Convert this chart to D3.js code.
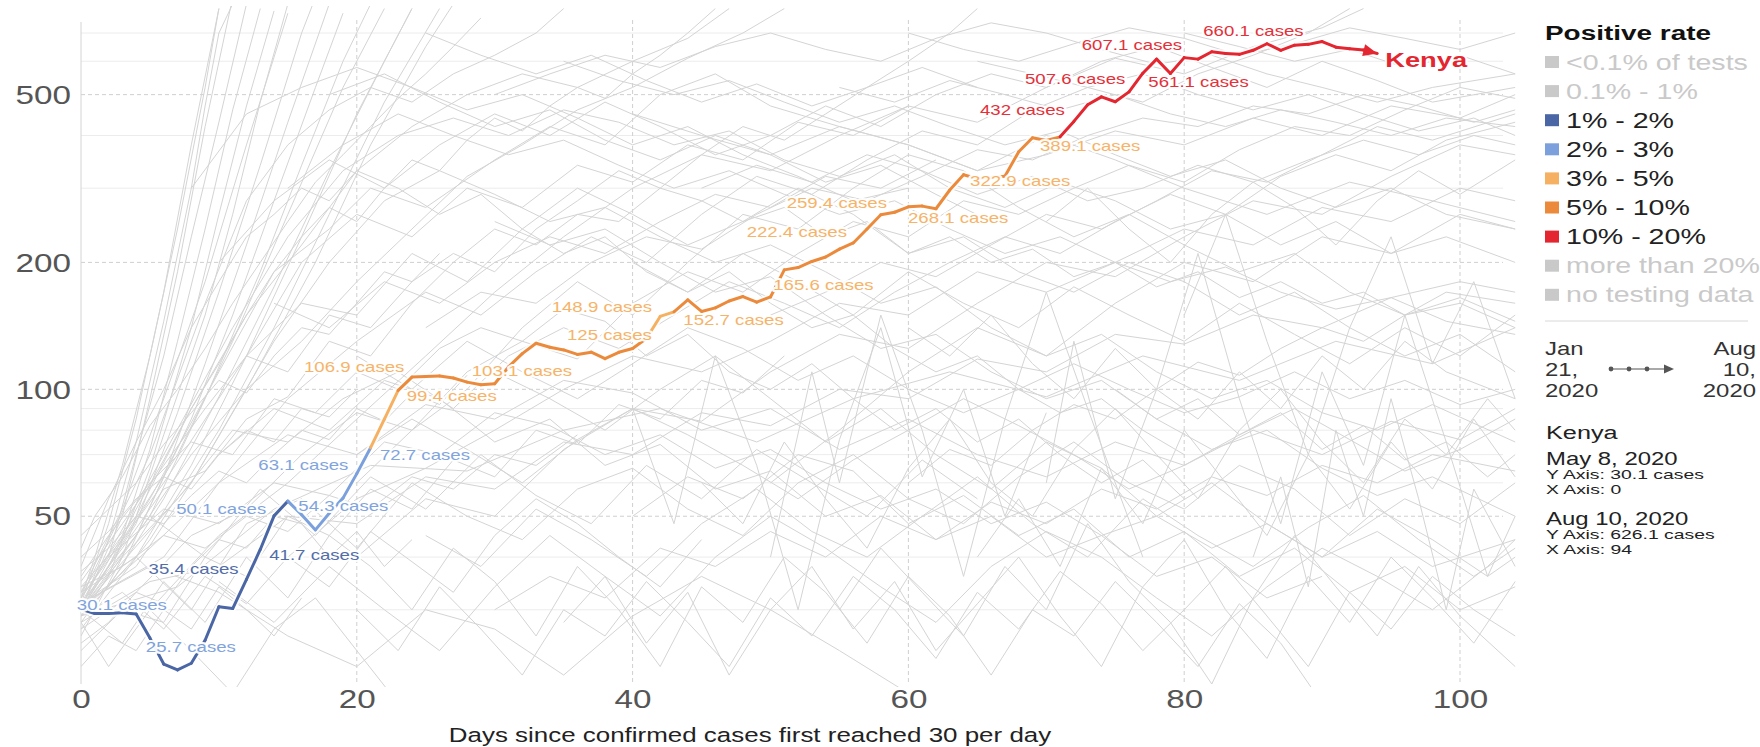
<!DOCTYPE html>
<html><head><meta charset="utf-8">
<script src="https://cdn.jsdelivr.net/npm/d3@7"></script>
<style>
body{margin:0;background:#fff}
svg{display:block}
text{font-family:"Liberation Sans",Arial,Helvetica,sans-serif}
</style></head>
<body><svg id="chart" width="1760" height="747"></svg>
<script>
// ---------------- DATA ----------------
const xTicks = [0, 20, 40, 60, 80, 100];
const yTicks = [50, 100, 200, 500];
const yMinor = [30, 40, 60, 70, 80, 90, 300, 400, 600, 700];

// Kenya: daily confirmed cases (7-day avg), day 0 = May 8 2020 ... day 94 = Aug 10 2020
const kenyaCases = [
  30.1, 29.4, 29.4, 29.5, 29.3, 25.7, 22.3, 21.6, 22.4, 25.4,
  30.5, 30.2, 35.4, 41.7, 50.1, 54.3, 50.4, 46.4, 50.8, 55.2,
  63.1, 72.7, 85.0, 99.4, 106.9, 107.3, 107.5, 106.4, 104.0, 102.5,
  103.1, 113.0, 121.5, 128.6, 125.8, 124.0, 121.0, 122.5, 118.2, 122.4,
  125.0, 132.0, 148.9, 152.7, 163.0, 153.0, 156.0, 162.0, 166.0, 161.0,
  165.6, 192.0, 194.5, 201.0, 206.0, 215.0, 222.4, 240.0, 259.4, 263.0,
  271.0, 272.0, 268.1, 297.0, 322.9, 316.0, 318.0, 320.0, 366.0, 395.0,
  389.1, 397.0, 432.0, 473.0, 494.0, 481.0, 507.6, 562.0, 607.1, 561.1,
  612.0, 607.0, 632.0, 626.0, 623.0, 637.0, 660.1, 637.0, 655.0, 658.0,
  668.0, 648.0, 642.0, 638.0, 626.1
];
// positive-rate class of each day (index into rateLabels)
const kenyaRate = [
  2,2,2,2,2,2,2,2,2,2, 2,2,2,2,2,2,3,3,3,3,
  3,3,4,4,5,5,5,5,5,5, 5,5,5,5,5,5,5,5,5,5,
  5,5,4,4,5,5,5,5,5,5, 5,5,5,5,5,5,5,5,5,5,
  5,5,5,5,5,5,5,5,5,5, 5,5,6,6,6,6,6,6,6,6,
  6,6,6,6,6,6,6,6,6,6, 6,6,6,6,6
];
const rateLabels = ["<0.1% of tests", "0.1% - 1%", "1% - 2%", "2% - 3%", "3% - 5%",
                    "5% - 10%", "10% - 20%", "more than 20%", "no testing data"];
const rateColors = ["#c9c9c9", "#c9c9c9", "#4a66a5", "#7ba0dc", "#f6b062",
                    "#ec8a3c", "#e3262f", "#c9c9c9", "#c9c9c9"];
const rateActive = [false, false, true, true, true, true, true, false, false];

// annotation labels (text, anchor day, anchor value, rate class)
const annText = ["30.1 cases","25.7 cases","35.4 cases","50.1 cases","41.7 cases","63.1 cases",
  "54.3 cases","72.7 cases","106.9 cases","99.4 cases","103.1 cases","125 cases","148.9 cases",
  "152.7 cases","165.6 cases","222.4 cases","259.4 cases","268.1 cases","322.9 cases",
  "389.1 cases","432 cases","507.6 cases","561.1 cases","607.1 cases","660.1 cases"];
const annDay = [-0.3, 4.7, 4.9, 6.9, 13.65, 12.86, 15.76, 21.68, 16.17, 23.62, 28.33, 35.24, 34.13,
  43.68, 50.2, 48.27, 51.17, 59.97, 64.47, 69.54, 65.19, 68.45, 77.4, 72.57, 81.38];
const annAt = [30.8, 24.5, 37.4, 51.9, 40.5, 66.2, 52.7, 69.9, 113.0, 96.1, 110.2, 134.6, 157.1,
  146.1, 176.8, 236.6, 276.3, 254.6, 311.0, 376.6, 459.9, 543.9, 536.8, 656.0, 705.5];
const annRate = [3,3,2,3,2,3,3,3,4,4,4,4,4,4,4,4,4,4,4,4,6,6,6,6,6];

const kenyaStart = ["May 8, 2020", "Y Axis: 30.1 cases", "X Axis: 0"];
const kenyaEnd = ["Aug 10, 2020", "Y Axis: 626.1 cases", "X Axis: 94"];

// other countries (day, value pairs)
const greyLines = [
  [0,31, 2,48, 4,85, 6,170, 8,380, 10,800],
  [0,30, 3,50, 5,95, 7,190, 9,420, 11,850],
  [0,32, 2,40, 4,70, 6,120, 8,230, 10,430, 12,820],
  [0,30, 3,45, 5,72, 7,130, 9,240, 11,460, 13,800],
  [0,29, 2,36, 5,65, 8,140, 10,260, 12,470, 14,790],
  [0,33, 3,52, 6,95, 9,180, 12,380, 15,780],
  [0,30, 4,48, 7,88, 10,170, 13,340, 16,700, 17,850],
  [0,28, 3,38, 6,62, 9,115, 12,220, 15,430, 18,820],
  [0,31, 4,45, 8,85, 11,150, 14,280, 17,520, 19,780],
  [0,30, 5,50, 9,95, 13,190, 16,340, 19,600, 21,820],
  [0,34, 3,44, 7,70, 11,130, 15,260, 19,520, 22,800],
  [0,29, 4,40, 8,66, 12,120, 16,230, 20,450, 24,800],
  [0,30, 2,34, 6,55, 10,96, 14,175, 18,330, 22,600, 24,800],
  [0,31, 4,38, 8,60, 12,100, 17,200, 21,380, 25,650, 27,820],
  [0,27, 5,44, 10,80, 14,140, 18,260, 22,480, 26,800],
  [0,32, 1,40, 3,66, 5,120, 7,240, 9,520, 10,800],
  [0,30, 2,44, 4,75, 6,145, 8,300, 9,470, 10,700, 11,820],
  [0,26, 3,40, 6,78, 9,150, 11,260, 13,480, 15,820],
  [0,30, 5,55, 10,110, 14,190, 18,240, 21,300, 25,270, 30,350, 34,420, 38,380, 42,500, 46,560, 50,470, 55,420, 60,380, 65,330, 70,400, 75,350, 80,300, 86,260, 92,310, 98,280, 104,250],
  [0,32, 6,60, 12,120, 16,160, 20,150, 24,210, 28,180, 32,240, 36,300, 40,260, 44,220, 48,250, 52,300, 56,260, 60,210, 64,230, 68,190, 72,170, 76,200, 80,180, 84,150, 88,170, 92,140, 96,120, 100,135, 104,110],
  [0,29, 4,45, 8,70, 12,100, 16,130, 20,180, 24,240, 28,320, 32,380, 36,460, 40,520, 44,610, 48,700, 51,800],
  [0,31, 6,40, 10,60, 15,95, 20,130, 25,170, 29,150, 33,190, 37,230, 41,200, 45,260, 49,320, 53,290, 57,350, 61,410, 65,380, 69,460, 73,520, 77,480, 81,560, 85,620, 89,700, 92,800],
  [0,30, 3,40, 7,55, 11,80, 15,75, 19,95, 23,110, 27,90, 31,120, 35,140, 39,125, 43,150, 47,180, 51,160, 55,140, 59,170, 63,200, 67,230, 71,210, 75,250, 79,290, 83,260, 87,320, 91,360, 95,330, 99,390, 104,430],
  [0,33, 4,50, 8,90, 12,150, 16,220, 20,330, 24,420, 28,500, 32,560, 36,520, 40,600, 44,680, 47,800],
  [5,30, 10,45, 15,60, 20,85, 25,120, 30,170, 35,230, 40,300, 45,360, 50,330, 55,400, 60,470, 65,430, 70,520, 75,610, 80,560, 85,650, 90,720, 93,800],
  [0,28, 5,35, 10,38, 15,50, 20,48, 25,62, 30,58, 35,75, 40,70, 45,88, 50,82, 55,100, 60,95, 65,118, 70,110, 75,135, 80,128, 85,150, 90,140, 95,165, 100,180, 104,170],
  [0,30, 8,60, 14,130, 18,200, 22,280, 26,330, 30,290, 34,250, 38,270, 42,230, 46,200, 50,220, 54,190, 58,160, 62,175, 66,140, 70,120, 74,135, 78,110, 82,95, 86,105, 90,88, 94,80, 98,92, 104,75],
  [0,31, 6,70, 11,140, 15,230, 19,330, 23,400, 27,440, 31,400, 35,460, 39,430, 43,380, 47,410, 51,350, 55,320, 59,360, 63,300, 67,270, 71,310, 75,280, 79,240, 83,260, 87,220, 91,250, 95,210, 99,230, 104,200],
  [10,200, 14,280, 18,350, 22,300, 26,380, 30,450, 34,400, 38,480, 42,420, 46,360, 50,400, 54,470, 58,420, 62,500, 66,560, 70,520, 74,600, 78,650, 82,580, 86,520, 90,600, 94,540, 98,480, 104,520],
  [0,30, 5,42, 10,60, 15,78, 20,70, 25,92, 30,85, 35,105, 40,98, 45,80, 50,90, 55,72, 60,85, 65,70, 70,62, 75,75, 80,66, 85,80, 90,70, 95,84, 100,76, 104,90],
  [20,60, 24,80, 28,100, 32,140, 36,180, 40,150, 44,200, 48,260, 52,240, 56,300, 60,360, 64,330, 68,270, 72,230, 76,260, 80,220, 84,190, 88,210, 92,170, 96,150, 100,160, 104,140],
  [30,500, 34,560, 38,620, 42,580, 46,650, 50,700, 54,640, 58,600, 62,680, 66,740, 70,700, 74,640, 78,590, 82,620, 86,560, 90,520, 94,480, 98,520, 104,560],
  [0,32, 5,70, 9,160, 12,280, 15,380, 18,460, 21,520, 24,480, 27,560, 30,620, 33,700, 35,800],
  [15,40, 20,55, 25,65, 30,80, 35,100, 40,120, 45,110, 50,130, 55,160, 60,150, 65,190, 70,170, 75,200, 80,240, 85,220, 90,270, 95,250, 100,300, 104,280],
  [40,450, 45,400, 50,360, 55,420, 60,380, 65,330, 70,360, 75,410, 80,380, 85,440, 90,400, 95,470, 100,440, 104,500],
  [50,60, 55,80, 60,110, 65,140, 70,120, 75,160, 80,200, 85,180, 90,230, 95,210, 100,260, 104,240],
  [0,29, 7,34, 14,52, 21,66, 28,64, 35,80, 42,90, 49,75, 56,95, 63,110, 70,96, 77,120, 84,105, 91,130, 98,115, 104,140],
  [60,700, 64,640, 68,600, 72,660, 76,720, 80,680, 84,620, 88,660, 92,720, 96,680, 100,640, 104,700],
  [0,30, 3,25, 6,35, 9,28, 12,40, 15,32, 18,45, 21,38, 24,30, 27,42, 30,35, 33,26, 36,38, 39,30, 42,22, 45,34, 48,28, 51,40, 54,33, 57,25, 60,36, 63,29, 66,21, 69,30, 72,26, 75,35, 78,28, 81,22, 84,31, 87,25, 90,18],
  [0,33, 4,40, 8,30, 12,48, 16,55, 20,42, 24,60, 28,50, 32,44, 36,58, 40,65, 44,52, 48,45, 52,60, 56,70, 60,55, 64,48, 68,62, 72,75, 76,60, 80,52, 84,66, 88,58, 92,45, 96,55, 100,48, 104,60],
  [0,28, 2,22, 5,30, 8,24, 11,19, 14,27, 17,32, 20,24, 23,18],
  [10,35, 14,28, 18,38, 22,30, 26,24, 30,34, 34,45, 38,36, 42,29, 46,40, 50,50, 54,42, 58,34, 62,28, 66,38, 70,46, 74,40, 78,32, 82,26, 86,34, 90,42, 94,36, 98,30, 102,38, 104,44],
  [0,31, 5,38, 10,33, 15,26, 20,22, 25,30, 30,27, 35,21, 40,29, 45,36, 50,30, 55,24, 60,19],
  [20,70, 24,85, 28,72, 32,60, 36,76, 40,90, 44,78, 48,66, 52,55, 56,68, 60,80, 64,95, 68,82, 72,70, 76,58, 80,66, 84,78, 88,90, 92,76, 96,64, 100,72, 104,85],
  [25,45, 29,38, 33,52, 37,44, 41,36, 45,48, 49,58, 53,46, 57,40, 61,50, 65,62, 69,48, 73,40, 77,55, 81,45, 85,38, 89,47, 93,56, 97,44, 101,36, 104,42],
  [35,28, 38,36, 41,25, 44,33, 47,21, 50,30, 53,38, 56,27, 59,35, 62,24, 65,31, 68,40, 71,29, 74,22, 77,34, 80,44, 83,30, 86,23, 89,36, 92,28, 95,40, 98,32, 101,25, 104,35],
  [30,110, 34,95, 38,80, 42,100, 46,120, 50,95, 54,75, 58,90, 62,70, 66,58, 70,75, 74,65, 78,50, 82,60, 86,48, 90,40, 94,52, 98,44, 102,36, 104,40],
  [45,60, 48,48, 51,75, 54,55, 57,42, 60,65, 63,85, 66,60, 69,50, 72,72, 75,90, 78,70, 81,55, 84,80, 87,100, 90,75, 93,60, 96,85, 99,70, 102,95, 104,80],
  [0,29, 3,33, 6,27, 9,36, 12,31, 15,40, 18,34, 21,46, 24,39, 27,33, 30,45, 33,55, 36,48, 39,40, 42,34, 45,44],
  [55,30, 58,42, 61,33, 64,26, 67,38, 70,30, 73,48, 76,35, 79,28, 82,20, 85,32, 88,45, 91,34, 94,26, 97,38, 100,29, 104,22],
  [60,140, 63,120, 66,150, 69,115, 72,95, 75,125, 78,100, 81,85, 84,110, 87,90, 90,120, 93,100, 96,130, 99,110, 104,95],
  [65,40, 68,55, 71,38, 74,65, 77,48, 80,80, 83,60, 86,45, 89,70, 92,52, 95,75, 98,58, 101,85, 104,62],
  [5,50, 9,40, 13,58, 17,45, 21,62, 25,52, 29,70, 33,56, 37,48, 41,66, 45,55, 49,72, 53,60, 57,50, 61,68, 65,55],
  [40,200, 44,170, 48,210, 52,180, 56,150, 60,190, 64,160, 68,140, 72,175, 76,150, 80,130, 84,160, 88,135, 92,115, 96,140, 100,120, 104,150],
  [70,250, 73,300, 76,240, 79,200, 82,260, 85,310, 88,270, 91,220, 94,280, 97,330, 100,290, 104,350],
  [20,30, 23,24, 26,34, 29,27, 32,21, 35,30, 38,26, 41,35, 44,28, 47,22, 50,32, 53,26, 56,36, 59,30, 62,23, 65,33, 68,27, 71,37, 74,31, 77,24, 80,30, 83,38, 86,29, 89,22, 92,33, 95,27, 98,36, 101,30, 104,26],
  [50,40, 53,110, 55,60, 58,150, 61,80, 64,36, 67,85, 70,170, 73,90, 77,40],
  [70,60, 72,130, 75,55, 78,100, 81,210, 84,95, 87,48, 90,110, 93,66, 96,150, 99,75, 102,36, 104,50],
  [40,90, 43,48, 46,120, 49,66, 52,30, 55,76, 58,140, 61,62, 64,100, 67,50, 70,88],
  [80,150, 83,260, 86,130, 89,70, 92,140, 95,230, 98,115, 101,180, 104,95],
  [85,40, 87,62, 89,34, 91,80, 93,50, 95,95, 97,55, 99,30, 101,58, 104,38],
  [12,120, 16,200, 20,260, 24,230, 28,300, 32,270, 36,340, 40,310, 44,380, 48,350, 52,430, 56,400, 60,470],
  [18,500, 22,560, 26,480, 30,420, 34,460, 38,390, 42,350, 46,400, 50,360, 54,310, 58,340, 62,290, 66,250],
  [8,300, 12,450, 16,520, 20,580, 24,520, 28,460, 32,500, 36,440, 40,380, 44,420, 48,360, 52,320, 56,280, 60,300],
  [25,700, 29,620, 33,560, 37,620, 41,540, 45,480, 49,530, 53,470, 57,520, 61,580, 65,520],
  [14,160, 18,140, 22,180, 26,160, 30,200, 34,230, 38,210, 42,250, 46,290, 50,270, 54,320, 58,300, 62,350],
  [0,35, 3,48, 6,66, 9,90, 12,120, 15,110, 18,150, 21,140, 24,180, 27,210, 30,190, 33,240, 36,280, 39,330, 42,300, 45,360, 48,420, 51,390, 54,450, 57,520, 60,600, 63,700, 65,800],
  [0,27, 4,33, 8,45, 12,52, 16,70, 20,88, 24,80, 28,110, 32,130, 36,118, 40,160, 44,190, 48,170, 52,210, 56,250, 60,230, 64,280, 68,260, 72,300, 76,340, 80,310, 84,370, 88,420, 92,400, 96,460, 100,520, 104,490],
  [0,38, 2,55, 4,75, 6,100, 8,140, 10,180, 12,230, 14,260, 16,300, 18,280, 20,330, 23,300, 26,260, 29,290, 32,240, 35,210, 38,230, 41,190, 44,170, 47,190, 50,160, 53,140, 56,150, 59,125, 62,110, 65,120, 68,100, 71,88, 74,95, 77,80, 80,70],
  [0,24, 3,30, 6,28, 9,40, 12,36, 15,50, 18,45, 21,58, 24,52, 27,68, 30,62, 33,80, 36,74, 39,92, 42,85, 45,105, 48,98, 51,120],
  [0,36, 2,45, 5,60, 8,75, 11,70, 14,95, 17,88, 20,110, 23,100, 26,125, 29,140, 32,130, 35,155, 38,145, 41,120, 44,135, 47,110, 50,100, 53,115, 56,95, 59,80, 62,90, 65,75, 68,85, 71,70, 74,60, 77,68, 80,55],
  [2,40, 6,52, 10,48, 14,60, 18,56, 22,75, 26,70, 30,88, 34,82, 38,70, 42,78, 46,65, 50,72, 54,60, 58,52, 62,58, 66,48, 70,54, 74,45, 78,50, 82,42, 86,48, 90,40, 94,46, 98,38, 104,44],
  [0,30, 2,38, 4,52, 6,68, 8,90, 10,115, 12,150, 14,190, 16,230, 18,270, 20,250, 22,300, 24,350, 26,330, 28,390, 30,440, 32,410, 34,470, 36,520, 38,490, 40,560, 42,620, 44,700, 46,800],
  [0,31, 3,42, 6,58, 9,64, 12,85, 15,96, 18,130, 21,120, 24,160, 27,200, 30,240, 33,220, 36,260, 39,250, 42,300, 45,280, 48,250, 51,270, 54,230, 57,250, 60,210, 63,230, 66,200, 69,215, 72,185, 75,200, 78,175, 81,190, 84,165, 87,180, 90,160, 93,170, 96,150, 100,165, 104,145],
  [20,40, 25,55, 30,50, 35,72, 40,90, 45,84, 50,110, 55,135, 60,125, 65,160, 70,200, 75,185, 80,230, 85,280, 90,260, 95,320, 100,380, 104,360],
  [30,250, 34,220, 38,240, 42,200, 46,170, 50,185, 54,150, 58,125, 62,135, 66,110, 70,95, 74,105, 78,85, 82,72, 86,80, 90,65, 94,56, 98,62, 104,50],
  [35,600, 39,540, 43,500, 47,540, 51,480, 55,430, 59,470, 63,420, 67,380, 71,410, 75,360, 79,320, 83,350, 87,300, 91,270, 95,300, 99,260, 104,240],
  [45,300, 49,340, 53,310, 57,360, 61,330, 65,290, 69,320, 73,280, 77,300, 81,340, 85,310, 89,350, 93,390, 97,360, 101,400, 104,380],
  [55,520, 59,480, 63,540, 67,500, 71,460, 75,500, 79,450, 83,420, 87,460, 91,430, 95,400, 99,440, 104,420],
  [25,140, 29,170, 33,160, 37,200, 41,230, 45,215, 49,260, 53,300, 57,280, 61,320, 65,370, 69,350, 73,400, 77,440, 81,420, 85,470, 89,450, 93,500, 97,470, 101,430, 104,460],
  [60,60, 63,72, 66,66, 69,80, 72,92, 75,85, 78,100, 81,116, 84,108, 87,125, 90,140, 93,130, 96,150, 99,170, 104,160],
  [40,50, 44,62, 48,55, 52,70, 56,64, 60,48, 64,56, 68,45, 72,52, 76,40, 80,46, 84,36, 88,42, 92,33, 96,38, 100,30, 104,34],
  [15,300, 19,380, 23,450, 27,400, 31,360, 35,390, 39,340, 43,300, 47,330, 51,290, 55,260, 59,280, 63,240, 67,210, 71,230, 75,200, 79,180, 83,195, 87,170, 91,155, 95,165, 99,145, 104,135],
  [50,150, 54,170, 58,200, 62,185, 66,220, 70,260, 74,240, 78,280, 82,330, 86,310, 90,360, 94,420, 98,390, 104,450],
  [75,100, 78,85, 81,95, 84,78, 87,88, 90,72, 93,82, 96,68, 99,75, 102,62, 104,70],
  [30,30, 34,36, 38,32, 42,42, 46,38, 50,46, 54,40, 58,50, 62,44, 66,54, 70,48, 74,58, 78,52, 82,62, 86,56, 90,66, 94,60, 98,70, 104,64],
  [10,70, 14,90, 18,80, 22,105, 26,95, 30,75, 34,85, 38,66, 42,74, 46,58, 50,64, 54,50, 58,56, 62,44, 66,50, 70,40, 74,45, 78,36, 82,40, 86,32, 90,36],
  [65,600, 69,560, 73,520, 77,560, 81,500, 85,460, 89,500, 93,450, 97,410, 101,440, 104,400],
  [80,700, 84,650, 88,600, 92,640, 96,580, 100,620, 104,560],
  [20,120, 24,100, 28,130, 32,110, 36,95, 40,115, 44,140, 48,125, 52,105, 56,120, 60,100, 64,88, 68,100, 72,115, 76,100, 80,88, 84,96, 88,110, 92,95, 96,105, 100,92, 104,100],
  [0,40, 2,46, 4,55, 6,62, 8,58, 10,70, 12,80, 14,75, 16,90, 18,86, 20,100],
  [0,45, 2,52, 4,60, 6,74, 8,88, 10,105, 12,98, 14,120, 16,140, 18,135, 20,160, 22,190, 24,180, 26,210],
  [0,25, 2,28, 4,33, 6,31, 8,38, 10,44, 12,42, 14,50, 16,48, 18,40, 20,46, 22,38, 24,44],
  [0,22, 2,26, 4,24, 6,30, 8,27, 10,34, 12,30, 14,26, 16,32],
  [0,42, 1,50, 3,62, 5,82, 7,100, 9,125, 11,160, 13,200, 15,250, 17,310, 19,360, 21,420, 23,490, 25,560, 27,650, 29,760],
  [0,37, 2,42, 4,50, 6,48, 8,56, 10,64, 12,60, 14,70, 16,80, 18,76, 20,90, 22,84, 24,98, 26,92, 28,108],
  [0,34, 3,38, 6,45, 9,42, 12,50, 15,46, 18,56, 21,52, 24,62, 27,58, 30,70, 33,66, 36,78]
];

// ---------------- DRAW ----------------
const SX = 1.33; // horizontal stretch of the text in the reference
const svg = d3.select("#chart");
const x = d3.scaleLinear().domain([0, 100]).range([81, 1460]);
const y = d3.scaleLog().domain([20, 751.6]).range([684, 20]);
const plotRight = 1503;

function txt(g, px, py, s, size, color, anchor, weight, sx) {
  return g.append("text")
    .attr("transform", `translate(${px},${py}) scale(${sx || SX},1)`)
    .attr("dy", "0.35em")
    .attr("font-size", size)
    .attr("fill", color)
    .attr("text-anchor", anchor || "start")
    .attr("font-weight", weight || "normal")
    .text(s);
}

svg.append("defs").append("clipPath").attr("id", "plotclip")
  .append("rect").attr("x", 81).attr("y", 6).attr("width", 1441).attr("height", 681);

// grid
const grid = svg.append("g");
grid.selectAll(".ymin").data(yMinor).join("line")
  .attr("x1", 81).attr("x2", plotRight).attr("y1", d => y(d)).attr("y2", d => y(d))
  .attr("stroke", "#ececec").attr("stroke-width", 1);
grid.selectAll(".ymaj").data(yTicks).join("line")
  .attr("x1", 81).attr("x2", plotRight).attr("y1", d => y(d)).attr("y2", d => y(d))
  .attr("stroke", "#cfcfcf").attr("stroke-width", 1).attr("stroke-dasharray", "4,3");
grid.selectAll(".xmaj").data(xTicks.filter(d => d > 0)).join("line")
  .attr("x1", d => x(d)).attr("x2", d => x(d)).attr("y1", 20).attr("y2", 684)
  .attr("stroke", "#cfcfcf").attr("stroke-width", 1).attr("stroke-dasharray", "4,3");

// grey lines
const lineGen = d3.line().x(p => x(p[0])).y(p => y(p[1]));
const greyG = svg.append("g").attr("clip-path", "url(#plotclip)");
greyG.selectAll("path").data(greyLines.map(a => d3.range(0, a.length, 2).map(i => [a[i], a[i + 1]])))
  .join("path")
  .attr("d", lineGen)
  .attr("fill", "none").attr("stroke", "#d4d4d4").attr("stroke-width", 1)
  .attr("stroke-linejoin", "round");

// axes
const yAxis = svg.append("g").attr("transform", "translate(81,0)")
  .call(d3.axisLeft(y).tickValues(yTicks).tickFormat(d3.format("d")).tickSize(0));
yAxis.select(".domain").attr("stroke", "#d4d4d4").attr("d", "M0,22V684");
yAxis.selectAll(".tick text")
  .attr("x", null).attr("dy", "0.35em")
  .attr("transform", `translate(-10,0) scale(${SX},1)`)
  .attr("font-size", 25).attr("fill", "#555").attr("font-family", null);

const xAxis = svg.append("g").attr("transform", "translate(0,684)")
  .call(d3.axisBottom(x).tickValues(xTicks).tickFormat(d3.format("d")).tickSize(0));
xAxis.select(".domain").remove();
xAxis.selectAll(".tick text")
  .attr("y", null).attr("dy", "0.35em")
  .attr("transform", `translate(0,15) scale(${SX},1)`)
  .attr("font-size", 25).attr("fill", "#555").attr("font-family", null);

txt(svg, 750, 735, "Days since confirmed cases first reached 30 per day", 19.5, "#222", "middle");

// Kenya line
const kPts = kenyaCases.map((v, i) => [i, v]);
const kG = svg.append("g").attr("clip-path", "url(#plotclip)");
kG.append("path").attr("d", lineGen(kPts)).attr("fill", "none")
  .attr("stroke", "#fff").attr("stroke-width", 7).attr("stroke-linejoin", "round").attr("opacity", 0.85);
kG.selectAll(".seg").data(d3.range(kPts.length - 1)).join("path")
  .attr("d", i => lineGen([kPts[i], kPts[i + 1]]))
  .attr("fill", "none").attr("stroke", i => rateColors[kenyaRate[i + 1]])
  .attr("stroke-width", 3).attr("stroke-linecap", "round");

// arrow head at the end
const last = kPts[kPts.length - 1], prev = kPts[kPts.length - 2];
const ang = Math.atan2(y(last[1]) - y(prev[1]), x(last[0]) - x(prev[0])) * 180 / Math.PI;
svg.append("path").attr("d", "M0,0 L-14,-6 L-14,6 Z")
  .attr("transform", `translate(${x(last[0])},${y(last[1])}) rotate(${ang})`)
  .attr("fill", rateColors[kenyaRate[kPts.length - 1]]);
txt(svg, x(last[0]) + 8, y(last[1]) + 6, "Kenya", 20.5, "#e3262f", "start", "bold")
  .attr("stroke", "#fff").attr("stroke-width", 3).attr("paint-order", "stroke");

// annotations
const annG = svg.append("g");
annText.forEach((t, i) => {
  txt(annG, x(annDay[i]), y(annAt[i]), t, 14, rateColors[annRate[i]], "start")
    .attr("stroke", "#fff").attr("stroke-width", 4).attr("stroke-linejoin", "round")
    .attr("paint-order", "stroke").attr("opacity", 0.95);
});

// legend
const lg = svg.append("g");
txt(lg, 1545, 33, "Positive rate", 21, "#111", "start", "bold");
rateLabels.forEach((l, i) => {
  const cy = 62 + i * 29.1;
  lg.append("rect").attr("x", 1545).attr("y", cy - 6).attr("width", 14).attr("height", 12)
    .attr("fill", rateColors[i]);
  txt(lg, 1566, cy, l, 21.5, rateActive[i] ? "#222" : "#c9c9c9", "start");
});
lg.append("line").attr("x1", 1545).attr("x2", 1748).attr("y1", 321).attr("y2", 321)
  .attr("stroke", "#d8d8d8");
["Jan", "21,", "2020"].forEach((s, i) => txt(lg, 1545, 349 + i * 21, s, 18, "#333", "start"));
["Aug", "10,", "2020"].forEach((s, i) => txt(lg, 1756, 349 + i * 21, s, 18, "#333", "end"));
lg.append("line").attr("x1", 1611).attr("x2", 1666).attr("y1", 369).attr("y2", 369)
  .attr("stroke", "#555").attr("stroke-width", 1.2);
[1611, 1629, 1647].forEach(cx => lg.append("circle").attr("cx", cx).attr("cy", 369).attr("r", 2.4).attr("fill", "#555"));
lg.append("path").attr("d", "M1674,369 L1664,364.5 L1664,373.5 Z").attr("fill", "#555");

txt(lg, 1546, 432, "Kenya", 19, "#222", "start");
txt(lg, 1546, 459, kenyaStart[0], 18, "#222", "start");
txt(lg, 1546, 475, kenyaStart[1], 12.5, "#222", "start", "normal", 1.55);
txt(lg, 1546, 490, kenyaStart[2], 12.5, "#222", "start", "normal", 1.55);
txt(lg, 1546, 518.5, kenyaEnd[0], 18, "#222", "start");
txt(lg, 1546, 534.5, kenyaEnd[1], 12.5, "#222", "start", "normal", 1.55);
txt(lg, 1546, 549.5, kenyaEnd[2], 12.5, "#222", "start", "normal", 1.55);
</script>
</body></html>
